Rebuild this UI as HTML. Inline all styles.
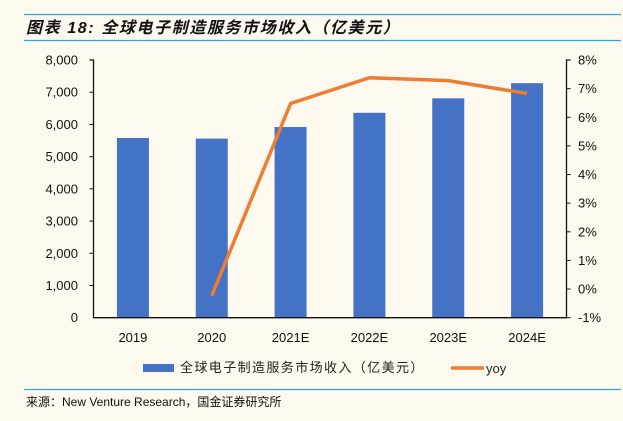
<!DOCTYPE html>
<html><head><meta charset="utf-8"><style>
html,body{margin:0;padding:0;background:#fdf9ef;}
body{width:623px;height:421px;overflow:hidden;position:relative;font-family:"Liberation Sans","Noto Sans CJK SC",sans-serif;}
</style></head><body>
<svg width="623" height="421" xmlns="http://www.w3.org/2000/svg" style="position:absolute;left:0;top:0">
<rect width="623" height="421" fill="#fdf9ef"/>
<line x1="24" y1="14.5" x2="621" y2="14.5" stroke="#29a9e1" stroke-width="1.2"/>
<text x="26" y="33" font-size="16" font-weight="bold" font-style="italic" fill="#111" letter-spacing="1.6" font-family="'Liberation Sans','Noto Sans CJK SC',sans-serif">图表 18:  全球电子制造服务市场收入（亿美元）</text>
<line x1="24" y1="40.5" x2="621" y2="40.5" stroke="#29a9e1" stroke-width="1.2"/>
<g id="plot"></g>
<rect x="143" y="364" width="31" height="8" fill="#4472c4"/>
<text x="180" y="372" font-size="13" fill="#222" letter-spacing="1.4">全球电子制造服务市场收入（亿美元）</text>
<line x1="451" y1="368" x2="484" y2="368" stroke="#ed7d31" stroke-width="3.5"/>
<text x="486" y="373" font-size="13" fill="#222">yoy</text>
<line x1="24" y1="389.5" x2="621" y2="389.5" stroke="#29a9e1" stroke-width="1.2"/>
<text x="26" y="406" font-size="12" fill="#111">来源：New Venture Research，国金证券研究所</text>
</svg>
<script>
const categories=["2019","2020","2021E","2022E","2023E","2024E"];
const revenue=[5580,5560,5920,6360,6810,7280];
const yoy=[null,-0.23,6.48,7.38,7.28,6.83];
const leftTicks=[0,1000,2000,3000,4000,5000,6000,7000,8000];
const leftTickLabels=["0","1,000","2,000","3,000","4,000","5,000","6,000","7,000","8,000"];
const rightTicks=[-1,0,1,2,3,4,5,6,7,8];
const rightTickLabels=["-1%","0%","1%","2%","3%","4%","5%","6%","7%","8%"];

const NS="http://www.w3.org/2000/svg";
const g=document.getElementById('plot');
const X0=93.5,X1=566.5,Y0=317.7,Y1=60;
const band=(X1-X0)/categories.length;
const xc=i=>X0+band*(i+0.5);
const yL=v=>Y0-(v-0)/8000*(Y0-Y1);
const yR=v=>Y0-(v+1)/9*(Y0-Y1);
function mk(tag,attrs){const e=document.createElementNS(NS,tag);for(const k in attrs)e.setAttribute(k,attrs[k]);g.appendChild(e);return e;}
revenue.forEach((v,i)=>{
  const r=mk('rect',{x:xc(i)-16,y:yL(v),width:32,height:Y0-yL(v),fill:'#4472c4'});
  
  
});
const ax=mk('path',{d:`M${X0-4} ${Y1}H${X0}V${Y0}H${X1}V${Y1}H${X1+4}`,fill:'none',stroke:'#111','stroke-width':1.3});


leftTicks.forEach((v,i)=>{
  const t=mk('text',{x:78,y:yL(v)+4.5,'text-anchor':'end','font-size':13,fill:'#111'});
  t.textContent=leftTickLabels[i];
  
  
  if(v>0&&v<8000){const l=mk('line',{x1:X0-4,x2:X0,y1:yL(v),y2:yL(v),stroke:'#111'});
  
  }
});
rightTicks.forEach((v,i)=>{
  const t=mk('text',{x:578,y:yR(v)+4.5,'font-size':13,fill:'#111'});
  t.textContent=rightTickLabels[i];
  
  
  const l=mk('line',{x1:X1,x2:X1+4,y1:yR(v),y2:yR(v),stroke:'#111'});
  
  
});
categories.forEach((c,i)=>{
  const t=mk('text',{x:xc(i),y:342,'text-anchor':'middle','font-size':13,fill:'#111'});
  t.textContent=c;
  
  
});
const pts=yoy.map((v,i)=>v==null?null:[xc(i),yR(v)]).filter(p=>p);
const line=mk('polyline',{points:pts.map(p=>p.join(',')).join(' '),fill:'none',stroke:'#ed7d31','stroke-width':3.5,'stroke-linejoin':'round'});


</script>
</body></html>
